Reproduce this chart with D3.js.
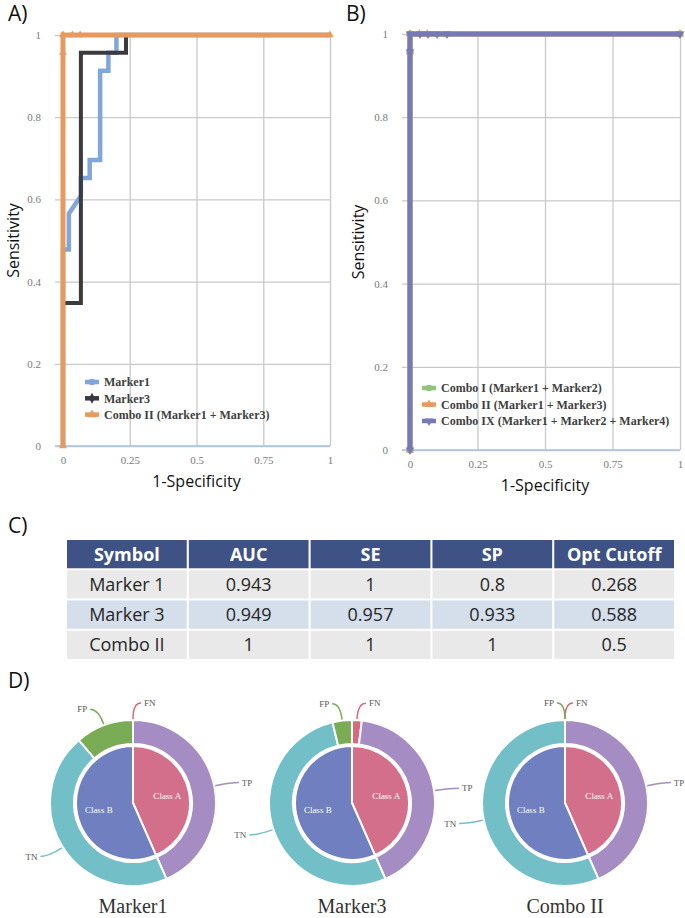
<!DOCTYPE html>
<html><head><meta charset="utf-8">
<script src="https://cdn.jsdelivr.net/npm/d3@7/dist/d3.min.js"></script>
<style>html,body{margin:0;padding:0;background:#fff;} svg{display:block}</style>
</head><body>
<svg id="chart" width="685" height="918"></svg>
<script>
// ---------------- data ----------------
const xTickValues = [0, 0.25, 0.5, 0.75, 1];
const xTickLabels = ["0", "0.25", "0.5", "0.75", "1"];
const yTickValues = [0, 0.2, 0.4, 0.6, 0.8, 1];
const yTickLabels = ["0", "0.2", "0.4", "0.6", "0.8", "1"];

// Panel A ROC curves (1-Specificity, Sensitivity)
const marker1FPR = [0, 0, 0.022, 0.022, 0.067, 0.067, 0.1, 0.1, 0.139, 0.139, 0.17, 0.17, 0.2, 0.2, 1];
const marker1TPR = [0, 0.478, 0.478, 0.565, 0.609, 0.652, 0.652, 0.696, 0.696, 0.913, 0.913, 0.957, 0.957, 1, 1];
const marker3FPR = [0, 0, 0.067, 0.067, 0.236, 0.236, 1];
const marker3TPR = [0, 0.348, 0.348, 0.957, 0.957, 1, 1];
const comboIIFPR = [0, 0, 0, 0.035, 0.064, 1];
const comboIITPR = [0, 0.957, 1, 1, 1, 1];

// Panel B ROC curves
const comboIFPR = [0, 0, 0, 1];
const comboITPR = [0, 0.957, 1, 1];
const comboIXFPR = [0, 0, 0, 0.037, 0.067, 0.1, 0.137, 1];
const comboIXTPR = [0, 0.957, 1, 1, 1, 1, 1, 1];

const legendA = ["Marker1", "Marker3", "Combo II (Marker1 + Marker3)"];
const legendB = ["Combo I (Marker1 + Marker2)", "Combo II (Marker1 + Marker3)", "Combo IX (Marker1 + Marker2 + Marker4)"];

// Panel C table
const tableColumns = ["Symbol", "AUC", "SE", "SP", "Opt Cutoff"];
const tableSymbols = ["Marker 1", "Marker 3", "Combo II"];
const aucValues = ["0.943", "0.949", "1"];
const seValues = ["1", "0.957", "1"];
const spValues = ["0.8", "0.933", "1"];
const cutoffValues = ["0.268", "0.588", "0.5"];

// Panel D donuts
const donutNames = ["Marker1", "Marker3", "Combo II"];
const classLabels = ["Class A", "Class B"];
const classACounts = [23, 23, 23];
const classBCounts = [30, 30, 30];
const ringLabels = ["FN", "TP", "TN", "FP"];
const fnCounts = [0, 1, 0];
const tpCounts = [23, 22, 23];
const tnCounts = [24, 28, 30];
const fpCounts = [6, 2, 0];

// ---------------- styles ----------------
const SERIF = "'Liberation Serif','Times New Roman',serif";
const SANS = "'Open Sans','Liberation Sans',sans-serif";
const svg = d3.select("#chart");

function drawROC(cfg) {
  const x = d3.scaleLinear().domain([0, 1]).range([cfg.left, cfg.right]);
  const y = d3.scaleLinear().domain([0, 1]).range([cfg.bottom, cfg.top]);
  const w = cfg.right - cfg.left, h = cfg.bottom - cfg.top;
  const g = svg.append("g");

  const gx = g.append("g").attr("transform", `translate(0,${cfg.bottom})`)
    .call(d3.axisBottom(x).tickValues(xTickValues).tickSize(-h).tickPadding(10)
      .tickFormat((d, i) => xTickLabels[i]));
  gx.select(".domain").remove();
  gx.selectAll(".tick line").attr("stroke", "#c9c9c9").attr("stroke-width", 1.3);
  gx.selectAll(".tick text").attr("fill", "#7a7a7a").style("font-family", SERIF).style("font-size", "11px");

  const gy = g.append("g").attr("transform", `translate(${cfg.left - 8},0)`)
    .call(d3.axisLeft(y).tickValues(yTickValues).tickSize(-(w + 8)).tickPadding(14)
      .tickFormat((d, i) => yTickLabels[i]));
  gy.select(".domain").remove();
  gy.selectAll(".tick line").attr("stroke", "#c9c9c9").attr("stroke-width", 1.3);
  gy.selectAll(".tick text").attr("fill", "#7a7a7a").style("font-family", SERIF).style("font-size", "11px");

  g.append("line").attr("x1", cfg.left - 8).attr("x2", cfg.right)
    .attr("y1", y(0)).attr("y2", y(0)).attr("stroke", "#a9c3e3").attr("stroke-width", 1.6);

  const line = d3.line().x(d => x(d[0])).y(d => y(d[1]));
  cfg.series.forEach(s => {
    const pts = d3.zip(s.fpr, s.tpr);
    g.append("path").datum(pts).attr("d", line).attr("fill", "none")
      .attr("stroke", s.color).attr("stroke-width", s.width).attr("stroke-linejoin", "miter");
    if (s.markers) {
      g.selectAll(null).data(pts).join("path")
        .attr("transform", d => `translate(${x(d[0])},${y(d[1])}) rotate(${s.rot || 0})`)
        .attr("d", d3.symbol(s.symbol, s.msize)())
        .attr("fill", s.color);
    }
  });

  // legend
  const lg = g.append("g");
  cfg.series.forEach((s, i) => {
    const ly = cfg.legendY + i * cfg.legendDy;
    lg.append("line").attr("x1", cfg.legendX).attr("x2", cfg.legendX + 14)
      .attr("y1", ly).attr("y2", ly).attr("stroke", s.color).attr("stroke-width", 4.5);
    lg.append("path").attr("transform", `translate(${cfg.legendX + 7},${ly}) rotate(${s.rot || 0})`)
      .attr("d", d3.symbol(s.symbol, 34)()).attr("fill", s.color);
    lg.append("text").attr("x", cfg.legendX + 19).attr("y", ly).attr("dy", "0.35em")
      .style("font-family", SERIF).style("font-size", "12px").style("font-weight", "bold")
      .attr("fill", "#404040").text(s.name);
  });

  // titles
  g.append("text").attr("x", (cfg.left + cfg.right) / 2).attr("y", cfg.bottom + 41)
    .attr("text-anchor", "middle").style("font-family", SANS).style("font-size", "16px")
    .attr("fill", "#111").text("1-Specificity");
  g.append("text").attr("transform", `translate(${cfg.yTitleX},${(cfg.top + cfg.bottom) / 2}) rotate(-90)`)
    .attr("text-anchor", "middle").attr("dy", "0.35em").style("font-family", SANS).style("font-size", "16px")
    .attr("fill", "#111").text("Sensitivity");
  g.append("text").attr("x", cfg.labelX).attr("y", 21).style("font-family", SANS).style("font-size", "21px")
    .attr("fill", "#111").text(cfg.label);
}

drawROC({
  left: 63, right: 330, top: 35, bottom: 446, label: "A)", labelX: 8, yTitleX: 13,
  legendX: 85, legendY: 382, legendDy: 16.3,
  series: [
    {name: legendA[0], fpr: marker1FPR, tpr: marker1TPR, color: "#7fa7da", width: 4.5, symbol: d3.symbolCircle},
    {name: legendA[1], fpr: marker3FPR, tpr: marker3TPR, color: "#3a3a40", width: 4, symbol: d3.symbolDiamond},
    {name: legendA[2], fpr: comboIIFPR, tpr: comboIITPR, color: "#e69a5f", width: 5, symbol: d3.symbolTriangle, markers: true, msize: 26}
  ]
});

drawROC({
  left: 410, right: 680, top: 34, bottom: 450, label: "B)", labelX: 346, yTitleX: 358,
  legendX: 422, legendY: 388, legendDy: 16.5,
  series: [
    {name: legendB[0], fpr: comboIFPR, tpr: comboITPR, color: "#91c47c", width: 5, symbol: d3.symbolCircle, markers: true, msize: 40},
    {name: legendB[1], fpr: comboIIFPR, tpr: comboIITPR, color: "#e69a5f", width: 5, symbol: d3.symbolTriangle, markers: true, msize: 30},
    {name: legendB[2], fpr: comboIXFPR, tpr: comboIXTPR, color: "#7779b7", width: 5, symbol: d3.symbolTriangle, markers: true, msize: 32, rot: 180}
  ]
});

// ---------------- Panel C: table ----------------
svg.append("text").attr("x", 8).attr("y", 533).style("font-family", SANS).style("font-size", "21px")
  .attr("fill", "#111").text("C)");

const tableRows = tableSymbols.map((s, i) => [s, aucValues[i], seValues[i], spValues[i], cutoffValues[i]]);
const colScale = d3.scaleBand().domain(tableColumns).range([67, 674]).paddingInner(0.017);
const rowScale = d3.scaleBand().domain(["header", ...tableSymbols]).range([540, 659]).paddingInner(0.065);
const rowFills = ["#e9e9e9", "#d5deeb", "#e9e9e9"];
const tg = svg.append("g");
tableColumns.forEach(c => {
  tg.append("rect").attr("x", colScale(c)).attr("y", rowScale("header"))
    .attr("width", colScale.bandwidth()).attr("height", rowScale.bandwidth()).attr("fill", "#3e5285");
  tg.append("text").attr("x", colScale(c) + colScale.bandwidth() / 2)
    .attr("y", rowScale("header") + rowScale.bandwidth() / 2).attr("dy", "0.36em")
    .attr("text-anchor", "middle").style("font-family", SANS).style("font-size", "18px")
    .style("font-weight", "bold").attr("fill", "#fff").text(c);
});
tableRows.forEach((row, ri) => {
  row.forEach((v, ci) => {
    const c = tableColumns[ci];
    tg.append("rect").attr("x", colScale(c)).attr("y", rowScale(tableSymbols[ri]))
      .attr("width", colScale.bandwidth()).attr("height", rowScale.bandwidth()).attr("fill", rowFills[ri]);
    tg.append("text").attr("x", colScale(c) + colScale.bandwidth() / 2)
      .attr("y", rowScale(tableSymbols[ri]) + rowScale.bandwidth() / 2).attr("dy", "0.36em")
      .attr("text-anchor", "middle").style("font-family", SANS).style("font-size", "18px")
      .attr("fill", "#262626").text(v);
  });
});

// ---------------- Panel D: donuts ----------------
svg.append("text").attr("x", 8).attr("y", 688).style("font-family", SANS).style("font-size", "21px")
  .attr("fill", "#111").text("D)");

const donutCX = [133, 352, 565];
const donutCY = 803;
const classColors = ["#d46f8b", "#6f7fbf"];
const ringColors = {FN: "#d9687a", TP: "#a58cc2", TN: "#73bfc8", FP: "#7aab55"};
const pie = d3.pie().sort(null).value(d => d.v);
const pieArc = d3.arc().innerRadius(0).outerRadius(57);
const pieLabelArc = d3.arc().innerRadius(0).outerRadius(70);
const ringArc = d3.arc().innerRadius(59).outerRadius(83);

donutNames.forEach((name, i) => {
  const g = svg.append("g").attr("transform", `translate(${donutCX[i]},${donutCY})`);
  const inner = pie([{k: classLabels[0], v: classACounts[i]}, {k: classLabels[1], v: classBCounts[i]}]);
  const ringVals = [fnCounts[i], tpCounts[i], tnCounts[i], fpCounts[i]];
  const outer = pie(ringLabels.map((k, j) => ({k, v: ringVals[j]})));

  g.selectAll(".ring").data(outer).join("path").attr("d", ringArc)
    .attr("fill", d => ringColors[d.data.k]).attr("stroke", "#fff").attr("stroke-width", 2);
  g.selectAll(".pie").data(inner).join("path").attr("d", pieArc)
    .attr("fill", (d, j) => classColors[j]).attr("stroke", "#fff").attr("stroke-width", 2);
  g.selectAll(".clabel").data(inner).join("text")
    .attr("transform", d => `translate(${pieLabelArc.centroid(d)})`).attr("dy", "0.35em")
    .attr("text-anchor", "middle").style("font-family", SERIF).style("font-size", "9px")
    .attr("fill", "#fff").text(d => d.data.k);

  outer.forEach(d => {
    const a = (d.startAngle + d.endAngle) / 2;
    const right = a < Math.PI;
    const sgn = right ? 1 : -1;
    const p0 = [84 * Math.sin(a), -84 * Math.cos(a)];
    const p1 = [100 * Math.sin(a), -100 * Math.cos(a)];
    const p2 = [p1[0] + sgn * 8, p1[1]];
    g.append("path").attr("d", `M${p0[0]},${p0[1]}Q${p1[0]},${p1[1]} ${p2[0]},${p2[1]}`)
      .attr("fill", "none").attr("stroke", ringColors[d.data.k]).attr("stroke-width", 1.5);
    g.append("text").attr("x", p2[0] + sgn * 3).attr("y", p2[1]).attr("dy", "0.35em")
      .attr("text-anchor", right ? "start" : "end").style("font-family", SERIF).style("font-size", "9px")
      .attr("fill", "#555").text(d.data.k);
  });

  g.append("text").attr("x", 0).attr("y", 110).attr("text-anchor", "middle")
    .style("font-family", SERIF).style("font-size", "20px").attr("fill", "#333").text(name);
});
</script>
</body></html>
